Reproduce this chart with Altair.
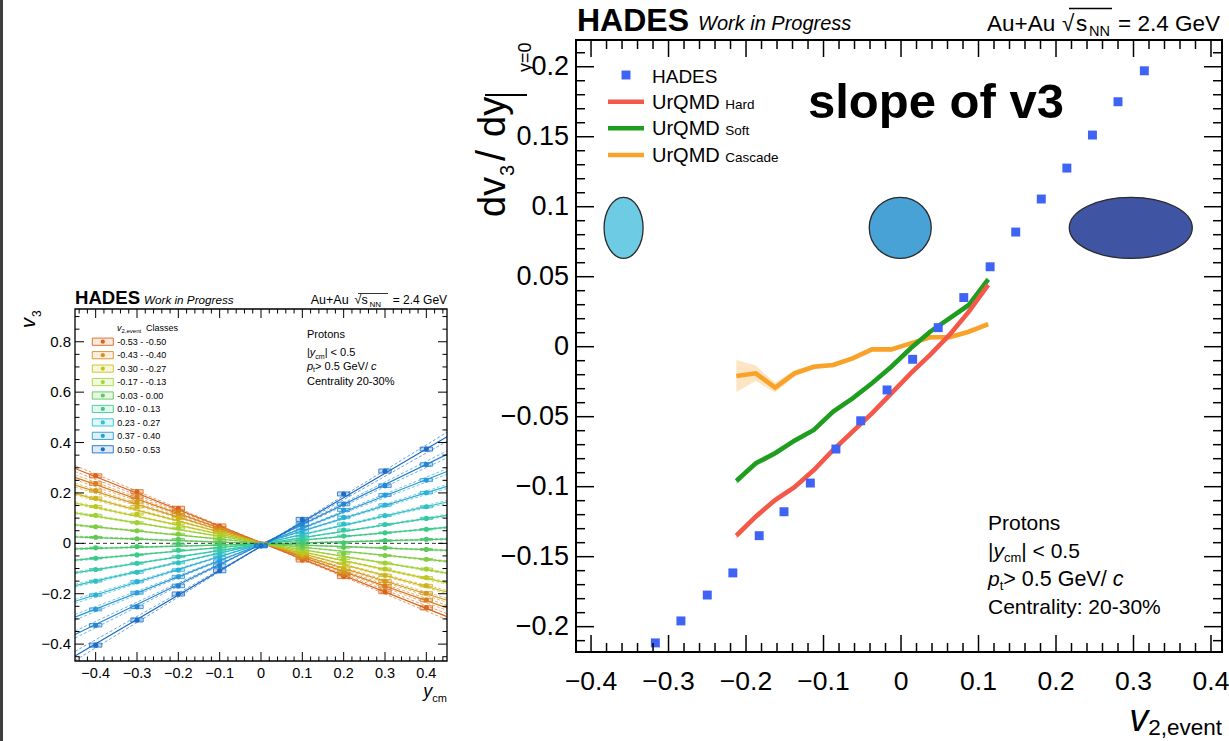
import altair as alt
import pandas as pd

FONT = "Liberation Sans"

# ---------------- right panel data (slope of v3 vs v2,event) ----------------
hades_v2 = [-0.317, -0.284, -0.250, -0.217, -0.183, -0.151, -0.117, -0.084, -0.052, -0.018,
            0.015, 0.048, 0.081, 0.115, 0.148, 0.181, 0.214, 0.247, 0.280, 0.314]
hades_slope = [-0.2116, -0.1959, -0.1774, -0.1616, -0.1350, -0.1179, -0.0974, -0.0731, -0.0529, -0.0309,
               -0.0090, 0.0136, 0.0351, 0.0571, 0.0819, 0.1055, 0.1276, 0.1512, 0.1750, 0.1971]

urqmd_v2 = [-0.2125, -0.1875, -0.1625, -0.1375, -0.1125, -0.0875, -0.0625,
            -0.0375, -0.0125, 0.0125, 0.0375, 0.0625, 0.0875, 0.1125]
urqmd_hard = [-0.1350, -0.1214, -0.1095, -0.1004, -0.0881, -0.0738, -0.0607,
              -0.0476, -0.0333, -0.0190, -0.0059, 0.0084, 0.0250, 0.0441]
urqmd_hard_err = [0.0025, 0.0022, 0.0020, 0.0018, 0.0016, 0.0015, 0.0015,
                  0.0015, 0.0015, 0.0015, 0.0015, 0.0015, 0.0016, 0.0018]
urqmd_soft = [-0.0959, -0.0833, -0.0761, -0.0671, -0.0595, -0.0464, -0.0369,
              -0.0261, -0.0143, -0.0011, 0.0107, 0.0203, 0.0298, 0.0481]
urqmd_soft_err = [0.0025, 0.0022, 0.0020, 0.0018, 0.0016, 0.0015, 0.0015,
                  0.0015, 0.0015, 0.0015, 0.0015, 0.0015, 0.0016, 0.0018]
urqmd_cascade = [-0.0209, -0.0190, -0.0293, -0.0190, -0.0143, -0.0131, -0.0083,
                 -0.0019, -0.0019, 0.0024, 0.0067, 0.0067, 0.0107, 0.0162]
urqmd_cascade_err = [0.0114, 0.0055, 0.0035, 0.0022, 0.0018, 0.0016, 0.0015,
                     0.0015, 0.0015, 0.0015, 0.0015, 0.0015, 0.0015, 0.0015]

# event-shape sketches (centres in data coordinates)
shape_v2 = [-0.358, -0.001, 0.2965]
shape_slope = [0.0849, 0.0849, 0.0849]

# ---------------- left panel data (v3 vs y_cm per v2,event class) ----------------
ycm = [-0.4, -0.3, -0.2, -0.1, 0.0, 0.1, 0.2, 0.3, 0.4]
v3_class = [
    [0.268, 0.205, 0.139, 0.069, -0.003, -0.066, -0.132, -0.192, -0.256],
    [0.237, 0.185, 0.125, 0.060, -0.004, -0.058, -0.122, -0.170, -0.225],
    [0.209, 0.165, 0.112, 0.052, -0.004, -0.052, -0.113, -0.150, -0.198],
    [0.179, 0.145, 0.099, 0.045, -0.004, -0.044, -0.099, -0.127, -0.168],
    [0.146, 0.116, 0.079, 0.036, -0.005, -0.036, -0.079, -0.102, -0.136],
    [0.111, 0.082, 0.060, 0.026, -0.005, -0.027, -0.060, -0.078, -0.102],
    [0.066, 0.050, 0.037, 0.015, -0.005, -0.017, -0.040, -0.048, -0.063],
    [0.024, 0.018, 0.016, 0.004, -0.005, -0.007, -0.016, -0.018, -0.024],
    [-0.018, -0.013, -0.003, -0.007, -0.006, 0.003, 0.002, 0.011, 0.016],
    [-0.059, -0.046, -0.027, -0.019, -0.006, 0.012, 0.029, 0.042, 0.056],
    [-0.104, -0.079, -0.053, -0.030, -0.006, 0.023, 0.053, 0.075, 0.099],
    [-0.150, -0.115, -0.077, -0.043, -0.007, 0.035, 0.077, 0.110, 0.145],
    [-0.205, -0.152, -0.106, -0.057, -0.007, 0.049, 0.103, 0.152, 0.201],
    [-0.262, -0.196, -0.133, -0.072, -0.008, 0.062, 0.132, 0.192, 0.251],
    [-0.325, -0.252, -0.169, -0.089, -0.009, 0.077, 0.156, 0.229, 0.313],
    [-0.404, -0.304, -0.201, -0.109, -0.010, 0.095, 0.196, 0.287, 0.374],
]
fit_at_left_edge = [0.297, 0.262, 0.231, 0.197, 0.160, 0.121, 0.073, 0.026,
                    -0.022, -0.067, -0.117, -0.168, -0.230, -0.293, -0.362, -0.447]
fit_at_right_edge = [-0.291, -0.256, -0.226, -0.193, -0.157, -0.118, -0.072, -0.028,
                     0.017, 0.063, 0.111, 0.164, 0.226, 0.285, 0.353, 0.423]
fit_err = [0.012, 0.010, 0.008, 0.006, 0.005, 0.004, 0.003, 0.003,
           0.003, 0.003, 0.004, 0.006, 0.008, 0.011, 0.014, 0.018]
sys_err = [0.008, 0.007, 0.006, 0.005, 0.004, 0.004, 0.003, 0.003,
           0.003, 0.003, 0.004, 0.004, 0.005, 0.006, 0.007, 0.008]
class_colors = ["#d9651b", "#d77d1d", "#d3991d", "#cdb31c", "#bcc822", "#9fd034", "#7ecb45", "#5ec857",
                "#45c86c", "#3bc98a", "#36c7a8", "#30c0c4", "#2bb0d6", "#2a9ad9", "#2584d2", "#1c6dc6"]
legend_labels = ["-0.53 - -0.50", "-0.43 - -0.40", "-0.30 - -0.27", "-0.17 - -0.13", "-0.03 - 0.00",
                 "0.10 - 0.13", "0.23 - 0.27", "0.37 - 0.40", "0.50 - 0.53"]
legend_colors = ["#d9651b", "#d88f1f", "#c9c41c", "#a6d53a", "#5cc95a", "#3dc98f", "#2fc2cf", "#2a9cd9", "#1c6fc8"]

# ---------------- scales (explicit pixel ranges for both panels) ----------------
RXS = alt.Scale(domain=[-0.4194, 0.4142], range=[576, 1222], nice=False, zero=False)
RYS = alt.Scale(domain=[-0.2181, 0.2191], range=[652, 40], nice=False, zero=False)
LXS = alt.Scale(domain=[-0.45, 0.45], range=[75, 447], nice=False, zero=False)
LYS = alt.Scale(domain=[-0.467, 0.93], range=[661, 309], nice=False, zero=False)


def RX(f):
    return alt.X(f"{f}:Q", scale=RXS, axis=None)


def RY(f):
    return alt.Y(f"{f}:Q", scale=RYS, axis=None)


def LX(f):
    return alt.X(f"{f}:Q", scale=LXS, axis=None)


def LY(f):
    return alt.Y(f"{f}:Q", scale=LYS, axis=None)


one = pd.DataFrame({"a": [0]})
layers = []


def fmt(v):
    v = round(v, 4)
    if abs(v) < 1e-9:
        return "0"
    return f"{v:g}".replace("-", "\u2212")


def ticks(lo, hi, step):
    n0 = int(round(lo / step)) - 1
    n1 = int(round(hi / step)) + 1
    return [round(i * step, 4) for i in range(n0, n1 + 1) if lo - 1e-9 <= round(i * step, 4) <= hi + 1e-9]


# page border on the left
layers.append(alt.Chart(one).mark_rule(color="#3c3c3c", strokeWidth=3).encode(
    x=alt.value(1.5), y=alt.value(0), y2=alt.value(741)))

# ================= LEFT PANEL =================
ldf = pd.DataFrame([
    dict(cls=k, y=yv, v=row[j], lo=row[j] - sys_err[k], hi=row[j] + sys_err[k],
         x1=yv - 0.015, x2=yv + 0.015, color=class_colors[k])
    for k, row in enumerate(v3_class) for j, yv in enumerate(ycm)
])
fdf = pd.DataFrame(
    [dict(cls=k, x=-0.45, v=fit_at_left_edge[k], color=class_colors[k]) for k in range(16)] +
    [dict(cls=k, x=0.45, v=fit_at_right_edge[k], color=class_colors[k]) for k in range(16)]
)
ddf = pd.DataFrame(
    [dict(cls=f"{k}a", x=-0.45, v=fit_at_left_edge[k] - fit_err[k], color=class_colors[k]) for k in range(16)] +
    [dict(cls=f"{k}a", x=0.45, v=fit_at_right_edge[k] + fit_err[k], color=class_colors[k]) for k in range(16)] +
    [dict(cls=f"{k}b", x=-0.45, v=fit_at_left_edge[k] + fit_err[k], color=class_colors[k]) for k in range(16)] +
    [dict(cls=f"{k}b", x=0.45, v=fit_at_right_edge[k] - fit_err[k], color=class_colors[k]) for k in range(16)]
)
zdf = pd.DataFrame({"x1": [-0.45], "x2": [0.45], "v": [0.0]})

layers.append(alt.Chart(ddf).mark_line(strokeWidth=0.8, strokeDash=[3, 2], opacity=0.8).encode(
    x=LX("x"), y=LY("v"), detail="cls:N", color=alt.Color("color:N", scale=None)))
layers.append(alt.Chart(fdf).mark_line(strokeWidth=1.2).encode(
    x=LX("x"), y=LY("v"), detail="cls:N", color=alt.Color("color:N", scale=None)))
layers.append(alt.Chart(zdf).mark_rule(color="#333333", strokeWidth=1, strokeDash=[4, 3]).encode(
    x=LX("x1"), x2="x2:Q", y=LY("v")))
layers.append(alt.Chart(ldf).mark_rect(strokeWidth=0.8, fillOpacity=0.25).encode(
    x=LX("x1"), x2="x2:Q", y=LY("lo"), y2="hi:Q",
    stroke=alt.Stroke("color:N", scale=None), fill=alt.Fill("color:N", scale=None)))
layers.append(alt.Chart(ldf).mark_circle(size=26, opacity=1).encode(
    x=LX("y"), y=LY("v"), color=alt.Color("color:N", scale=None)))

# left frame + ticks
layers.append(alt.Chart(one).mark_rect(fillOpacity=0, stroke="black", strokeWidth=1.3).encode(
    x=alt.value(75), x2=alt.value(447), y=alt.value(309), y2=alt.value(661)))
lx_major = ticks(-0.45, 0.45, 0.1)
lx_minor = [t for t in ticks(-0.45, 0.45, 0.02) if t not in lx_major]
ly_major = ticks(-0.467, 0.93, 0.2)
ly_minor = [t for t in ticks(-0.467, 0.93, 0.05) if t not in ly_major]
for vals, ln in [(lx_major, 9), (lx_minor, 4.5)]:
    d = pd.DataFrame({"v": vals})
    layers.append(alt.Chart(d).mark_rule(color="black", strokeWidth=1).encode(
        x=LX("v"), y=alt.value(661), y2=alt.value(661 - ln)))
    layers.append(alt.Chart(d).mark_rule(color="black", strokeWidth=1).encode(
        x=LX("v"), y=alt.value(309), y2=alt.value(309 + ln)))
for vals, ln in [(ly_major, 9), (ly_minor, 4.5)]:
    d = pd.DataFrame({"v": vals})
    layers.append(alt.Chart(d).mark_rule(color="black", strokeWidth=1).encode(
        y=LY("v"), x=alt.value(75), x2=alt.value(75 + ln)))
    layers.append(alt.Chart(d).mark_rule(color="black", strokeWidth=1).encode(
        y=LY("v"), x=alt.value(447), x2=alt.value(447 - ln)))
layers.append(alt.Chart(pd.DataFrame({"v": lx_major, "lab": [fmt(v) for v in lx_major]})).mark_text(
    font=FONT, fontSize=14.5, align="center", baseline="alphabetic").encode(
    x=LX("v"), y=alt.value(677.5), text="lab:N"))
layers.append(alt.Chart(pd.DataFrame({"v": ly_major, "lab": [fmt(v) for v in ly_major]})).mark_text(
    font=FONT, fontSize=15, align="right", baseline="middle").encode(
    y=LY("v"), x=alt.value(71), text="lab:N"))

# left legend
legdf = pd.DataFrame({"lab": legend_labels, "color": legend_colors,
                      "py": [341.7 + 13.45 * i for i in range(len(legend_labels))]})
legdf["top"] = legdf["py"] - 3.6
legdf["bot"] = legdf["py"] + 3.6
layers.append(alt.Chart(legdf).mark_rect(strokeWidth=0.9, fillOpacity=0.15).encode(
    x=alt.value(92.3), x2=alt.value(113.3),
    y=alt.Y("top:Q", scale=None, axis=None), y2="bot:Q",
    stroke=alt.Stroke("color:N", scale=None), fill=alt.Fill("color:N", scale=None)))
layers.append(alt.Chart(legdf).mark_circle(size=18, opacity=1).encode(
    x=alt.value(102.8), y=alt.Y("py:Q", scale=None, axis=None), color=alt.Color("color:N", scale=None)))

# ================= RIGHT PANEL =================
def ell(rx, ry):
    k = 0.5523
    return (f"M {-rx} 0 C {-rx} {-k*ry} {-k*rx} {-ry} 0 {-ry} C {k*rx} {-ry} {rx} {-k*ry} {rx} 0 "
            f"C {rx} {k*ry} {k*rx} {ry} 0 {ry} C {-k*rx} {ry} {-rx} {k*ry} {-rx} 0 Z")


edf = pd.DataFrame({
    "x": shape_v2, "y": shape_slope,
    "path": [ell(39 / 61, 1.0), ell(1.0, 61 / 62), ell(1.0, 61 / 123)],
    "sz": [61 ** 2, 62 ** 2, 123 ** 2],
    "fill": ["#6dcbe4", "#48a2d6", "#3f54a3"],
})
layers.append(alt.Chart(edf).mark_point(filled=True, opacity=1, stroke="#2b2b2b", strokeWidth=1.3).encode(
    x=RX("x"), y=RY("y"), shape=alt.Shape("path:N", scale=None),
    size=alt.Size("sz:Q", scale=None), fill=alt.Fill("fill:N", scale=None)))

models = [("Hard", urqmd_hard, urqmd_hard_err, "#f4584a"),
          ("Soft", urqmd_soft, urqmd_soft_err, "#1f9d1f"),
          ("Cascade", urqmd_cascade, urqmd_cascade_err, "#f9a22a")]
for name, vals, errs, col in models:
    mdf = pd.DataFrame({"x": urqmd_v2, "v": vals,
                        "lo": [a - b for a, b in zip(vals, errs)], "hi": [a + b for a, b in zip(vals, errs)]})
    layers.append(alt.Chart(mdf).mark_area(color=col, opacity=0.28).encode(
        x=RX("x"), y=RY("lo"), y2="hi:Q"))
for name, vals, errs, col in models[::-1]:
    mdf = pd.DataFrame({"x": urqmd_v2, "v": vals})
    layers.append(alt.Chart(mdf).mark_line(color=col, strokeWidth=4.6).encode(x=RX("x"), y=RY("v")))

hdf = pd.DataFrame({"x": hades_v2, "v": hades_slope})
layers.append(alt.Chart(hdf).mark_square(size=80, color="#3f63f4", opacity=1).encode(x=RX("x"), y=RY("v")))

# right frame + ticks
layers.append(alt.Chart(one).mark_rect(fillOpacity=0, stroke="black", strokeWidth=2).encode(
    x=alt.value(576), x2=alt.value(1222), y=alt.value(40), y2=alt.value(652)))
rx_major = ticks(-0.4194, 0.4142, 0.1)
rx_minor = [t for t in ticks(-0.4194, 0.4142, 0.02) if t not in rx_major]
ry_major = ticks(-0.2181, 0.2191, 0.05)
ry_minor = [t for t in ticks(-0.2181, 0.2191, 0.01) if t not in ry_major]
for vals, ln in [(rx_major, 17), (rx_minor, 9)]:
    d = pd.DataFrame({"v": vals})
    layers.append(alt.Chart(d).mark_rule(color="black", strokeWidth=1.5).encode(
        x=RX("v"), y=alt.value(652), y2=alt.value(652 - ln)))
    layers.append(alt.Chart(d).mark_rule(color="black", strokeWidth=1.5).encode(
        x=RX("v"), y=alt.value(40), y2=alt.value(40 + ln)))
for vals, ln in [(ry_major, 18), (ry_minor, 9)]:
    d = pd.DataFrame({"v": vals})
    layers.append(alt.Chart(d).mark_rule(color="black", strokeWidth=1.5).encode(
        y=RY("v"), x=alt.value(576), x2=alt.value(576 + ln)))
    layers.append(alt.Chart(d).mark_rule(color="black", strokeWidth=1.5).encode(
        y=RY("v"), x=alt.value(1222), x2=alt.value(1222 - ln)))
layers.append(alt.Chart(pd.DataFrame({"v": rx_major, "lab": [fmt(v) for v in rx_major]})).mark_text(
    font=FONT, fontSize=26.5, align="center", baseline="alphabetic").encode(
    x=RX("v"), y=alt.value(690), text="lab:N"))
layers.append(alt.Chart(pd.DataFrame({"v": ry_major, "lab": [fmt(v) for v in ry_major]})).mark_text(
    font=FONT, fontSize=27, align="right", baseline="middle").encode(
    y=RY("v"), x=alt.value(569), text="lab:N"))

# right legend symbols
layers.append(alt.Chart(one).mark_square(size=80, color="#3f63f4", opacity=1).encode(
    x=alt.value(626), y=alt.value(75)))
for (name, vals, errs, col), yy in zip(models, [101.7, 128.3, 155.0]):
    layers.append(alt.Chart(one).mark_rule(color=col, strokeWidth=4.5).encode(
        x=alt.value(608), x2=alt.value(644), y=alt.value(yy)))

# sqrt overlines and the |_{y=0} bar
layers.append(alt.Chart(one).mark_rule(color="black", strokeWidth=1.3).encode(
    x=alt.value(1069), x2=alt.value(1112), y=alt.value(8.5)))
layers.append(alt.Chart(one).mark_rule(color="black", strokeWidth=0.8).encode(
    x=alt.value(358), x2=alt.value(388), y=alt.value(293.5)))
layers.append(alt.Chart(one).mark_rule(color="black", strokeWidth=2.2).encode(
    x=alt.value(485), x2=alt.value(527), y=alt.value(95)))

# ================= TEXT =================
AW = {' ': 278, '!': 278, '%': 889, '+': 584, ',': 278, '-': 333, '.': 278, '/': 278, ':': 278,
      '<': 584, '=': 584, '>': 584, '|': 260, '\u221a': 549, '\u2212': 584,
      'A': 667, 'C': 722, 'D': 722, 'E': 667, 'G': 778, 'H': 722, 'M': 833, 'N': 722, 'P': 667,
      'Q': 778, 'S': 667, 'U': 722, 'V': 667, 'W': 944,
      'a': 556, 'c': 500, 'd': 556, 'e': 556, 'f': 278, 'g': 556, 'i': 222, 'k': 500, 'l': 222,
      'm': 833, 'n': 556, 'o': 556, 'p': 556, 'r': 333, 's': 500, 't': 278, 'u': 556, 'v': 500, 'y': 500}


def tw(s, size):
    return sum(AW.get(c, 556) for c in s) / 1000.0 * size


texts = []


def put(x, y, s, size, style="normal", weight="normal", align="left", angle=0):
    texts.append(dict(x=float(x), y=float(y), t=s, size=float(size), style=style,
                      weight=weight, align=align, angle=int(angle)))


def run(x, y, parts):
    for p in parts:
        s, size = p[0], p[1]
        style = p[2] if len(p) > 2 else "normal"
        dy = p[3] if len(p) > 3 else 0
        put(x, y + dy, s, size, style)
        x += tw(s, size)
    return x


# right panel header
put(577, 31, "HADES", 32, weight="bold")
put(698, 30, "Work in Progress", 20, style="italic")
put(987, 31, "Au+Au", 22.5)
put(1062, 31, "\u221a", 22.5)
put(1076, 31, "s", 22.5)
put(1089, 36, "NN", 14.5)
put(1118, 31, "= 2.4 GeV", 22.5)
put(808, 118, "slope of v3", 49, weight="bold")
# right legend
put(652, 83, "HADES", 19)
run(652, 108.5, [("UrQMD ", 20), ("Hard", 13.5)])
run(652, 135, [("UrQMD ", 20), ("Soft", 13.5)])
run(652, 162, [("UrQMD ", 20), ("Cascade", 13.5)])
# right annotation
run(988, 530, [("Protons", 21)])
run(988, 558, [("|", 21), ("y", 21, "italic"), ("cm", 13, "normal", 4), ("| < 0.5", 21)])
run(988, 586, [("p", 21, "italic"), ("t", 13, "normal", 4), (" > 0.5 GeV/", 21.5), ("c", 21.5, "italic")])
run(988, 614, [("Centrality: 20-30%", 21)])
# right axis titles
tot = tw("v", 38) + tw("2,event", 22.5)
run(1222 - tot, 731, [("v", 38, "italic"), ("2,event", 22.5, "normal", 4)])
put(505, 217, "dv", 38, angle=270)
put(514, 176, "3", 20, angle=270)
put(505, 161, "/", 40, angle=270)
put(505, 137, "dy", 38, angle=270)
put(531, 72, "y=0", 18, angle=270)

# left panel header
put(75, 304, "HADES", 18.6, weight="bold")
put(144, 304, "Work in Progress", 11.7, style="italic")
put(310.7, 304, "Au+Au", 12.5)
put(354.5, 304, "\u221a", 12.5)
put(361.5, 304, "s", 12.5)
put(369.5, 307, "NN", 8)
put(392.7, 304, "= 2.4 GeV", 12)
# left annotation
run(307, 338, [("Protons", 11)])
run(307, 356, [("|", 11), ("y", 11, "italic"), ("cm", 7, "normal", 2.5), ("| < 0.5", 11)])
run(307, 369.5, [("p", 11, "italic"), ("t", 7, "normal", 2.5), (" > 0.5 GeV/", 11), ("c", 11, "italic")])
run(307, 384.5, [("Centrality 20-30%", 11)])
# left legend text
run(117, 331, [("v", 9, "italic"), ("2,event", 6, "normal", 2)])
put(146, 331, "Classes", 9)
for i, lab in enumerate(legend_labels):
    put(117.3, 341.7 + 13.45 * i + 3.2, lab, 9)
# left axis titles
tot = tw("y", 18) + tw("cm", 11)
run(447 - tot, 697, [("y", 18, "italic"), ("cm", 11, "normal", 5)])
put(35, 328, "v", 20, style="italic", angle=270)
put(41, 317, "3", 12, angle=270)

tdf = pd.DataFrame(texts)
for (style, weight, align, angle), g in tdf.groupby(["style", "weight", "align", "angle"]):
    layers.append(alt.Chart(g.reset_index(drop=True)).mark_text(
        font=FONT, fontStyle=style, fontWeight=weight, align=align, angle=float(angle),
        baseline="alphabetic", color="black").encode(
        x=alt.X("x:Q", scale=None, axis=None), y=alt.Y("y:Q", scale=None, axis=None),
        text="t:N", size=alt.Size("size:Q", scale=None)))

chart = alt.layer(*layers).resolve_scale(x="independent", y="independent").properties(
    width=1229, height=741, padding=0, autosize=alt.AutoSizeParams(type="none"),
    background="white").configure_view(strokeOpacity=0)

chart.save("out.html", embed_options={"renderer": "svg", "actions": False})
